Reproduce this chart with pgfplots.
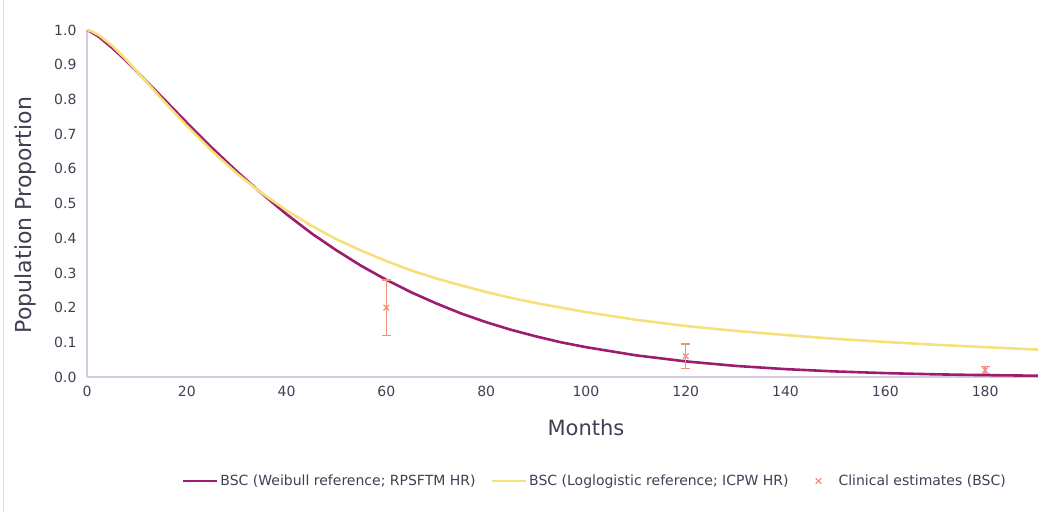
\documentclass[border=0pt]{standalone}
\usepackage{pgfplots}
\pgfplotsset{compat=1.18}
\usepackage{fontspec}
\setmainfont{DejaVu Sans}
\definecolor{weib}{HTML}{9C1C6E}
\definecolor{llog}{HTML}{F5E07C}
\definecolor{clin}{HTML}{F0907C}
\definecolor{txt}{HTML}{404055}
\definecolor{axl}{HTML}{D4CCDE}
\begin{document}
\begin{tikzpicture}
\begin{axis}[
  at={(0pt,0pt)}, anchor=origin,
  scale only axis, width=951pt, height=347pt,
  xmin=0, xmax=190.6, ymin=0, ymax=1,
  axis lines*=left,
  axis line style={draw=axl, line width=1.2pt},
  xtick={0,20,...,180}, ytick={0,0.1,...,1.0},
  major tick length=0pt,
  tick label style={font=\fontsize{14}{16}\selectfont, text=txt},
  /pgf/number format/assume math mode=true,
  yticklabel style={xshift=-7pt, /pgf/number format/.cd, fixed, fixed zerofill, precision=1},
  xticklabel style={yshift=-6pt, /pgf/number format/.cd, fixed, precision=0},
  xlabel={Months}, ylabel={Population Proportion},
  xlabel style={font=\fontsize{21}{24}\selectfont, text=txt, at={(axis description cs:0.5247,0)}, anchor=center, yshift=-51pt},
  ylabel style={font=\fontsize{22}{24}\selectfont, text=txt, at={(axis description cs:-0.0652,0.467)}, anchor=center},
  clip=false,
  legend columns=3,
  legend style={at={(0.534,-0.2997)}, anchor=center, draw=none, fill=none,
    font=\fontsize{14}{16}\selectfont, text=txt,
    /tikz/every even column/.append style={column sep=13pt}},
  legend image code/.code={\draw[#1] (0pt,0pt) -- (34pt,0pt);},
]
\addplot[weib, line width=2.6pt] coordinates {
(0,1.0) (1,0.993) (2.5,0.979) (5,0.949) (7.5,0.916) (10,0.880) (15,0.807) (20,0.733) (25,0.661) (30,0.593) (35,0.529)
(40,0.469) (45,0.414) (50,0.365) (55,0.320) (60,0.280) (65,0.244) (70,0.212) (75,0.183)
(80,0.158) (85,0.136) (90,0.117) (95,0.100) (100,0.086) (110,0.0625) (120,0.045)
(130,0.032) (140,0.0227) (150,0.016) (160,0.0112) (170,0.0077) (180,0.0054) (190.6,0.0037)
};
\addlegendentry{BSC (Weibull reference; RPSFTM HR)}
\addplot[llog, line width=2.6pt] coordinates {
(0,1.0) (1,0.996) (2.5,0.984) (5,0.955) (7.5,0.920) (10,0.881) (15,0.801) (20,0.724) (25,0.652) (30,0.587) (35,0.530)
(40,0.480) (45,0.436) (50,0.397) (55,0.364) (60,0.334) (65,0.307) (70,0.284) (75,0.264)
(80,0.245) (85,0.228) (90,0.213) (95,0.200) (100,0.187) (110,0.165) (120,0.147)
(130,0.133) (140,0.121) (150,0.110) (160,0.101) (170,0.093) (180,0.086) (190.6,0.079)
};
\addlegendentry{BSC (Loglogistic reference; ICPW HR)}
\addplot[draw=clin, color=clin, only marks, mark=x, mark size=4pt, line width=1.2pt,
  error bars/y dir=both, error bars/y explicit,
  /pgfplots/error bars/error bar style={line width=1.4pt, draw=clin},
  /pgfplots/error bars/error mark options={rotate=90, mark size=4.5pt, line width=1.4pt, draw=clin},
  legend image code/.code={\path[draw=none] (0pt,0pt) -- (33pt,0pt); \draw[clin, line width=1.2pt] plot[mark=x, mark size=4pt] coordinates {(15pt,0pt)};}]
  coordinates {
  (60,0.20) +- (0,0.08) [0.093]
  (120,0.06) +- (0,0.035)
  (180,0.02) +- (0,0.01)
};
\addlegendentry{Clinical estimates (BSC)}
\end{axis}
\draw[axl!70, line width=0.8pt] (-84pt,-135pt) -- (-84pt,377pt);
\pgfresetboundingbox
\path (-87pt,-135pt) rectangle (951pt,377pt);
\end{tikzpicture}
\end{document}
